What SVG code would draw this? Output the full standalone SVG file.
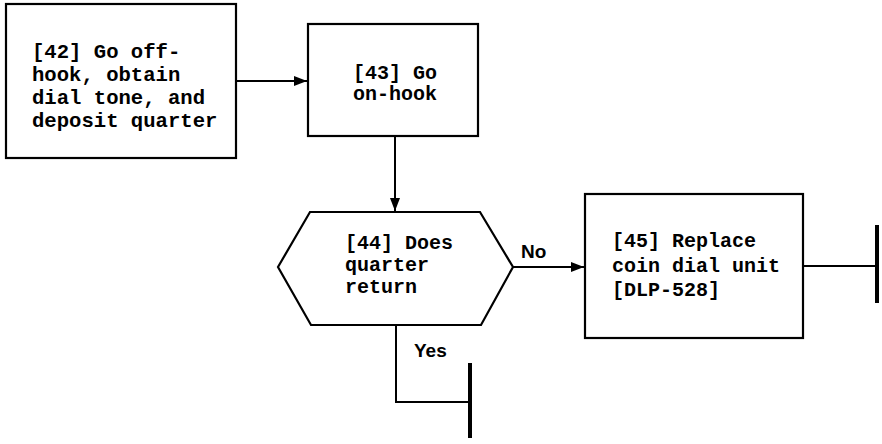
<svg xmlns="http://www.w3.org/2000/svg" width="882" height="444" viewBox="0 0 882 444">
<defs>
<style>
.box{fill:#fff;stroke:#000;stroke-width:2.2}
.ln{fill:none;stroke:#000;stroke-width:2}
.bar{fill:none;stroke:#000;stroke-width:4}
.t{font-family:"Liberation Mono",monospace;font-weight:bold;font-size:20px;fill:#000}
.big{font-size:20.6px}
.lbl{font-family:"Liberation Sans",Arial,sans-serif;font-weight:bold;font-size:19px;fill:#000}
</style>
<marker id="ah" markerWidth="13" markerHeight="10" refX="13" refY="5" orient="auto" markerUnits="userSpaceOnUse">
<path d="M0,0 L13,5 L0,10 Z" fill="#000"/>
</marker>
</defs>
<rect width="882" height="444" fill="#fff"/>
<g id="connectors">
<line class="ln" x1="236" y1="81" x2="307" y2="81" marker-end="url(#ah)"/>
<line class="ln" x1="395" y1="136" x2="395" y2="211" marker-end="url(#ah)"/>
<line class="ln" x1="513" y1="267" x2="584" y2="267" marker-end="url(#ah)"/>
<polyline class="ln" points="396,325 396,402 470,402"/>
<line class="bar" x1="470" y1="363" x2="470" y2="438"/>
<line class="ln" x1="803" y1="266" x2="877" y2="266"/>
<line class="bar" x1="877" y1="225" x2="877" y2="303"/>
<text class="lbl" x="521" y="258">No</text>
<text class="lbl" x="414" y="357">Yes</text>
</g>
<g id="n42">
<rect class="box" x="6" y="4" width="230" height="154"/>
<text class="t big" x="32" y="58">[42] Go off-</text>
<text class="t big" x="32" y="81">hook, obtain</text>
<text class="t big" x="32" y="104">dial tone, and</text>
<text class="t big" x="32" y="127">deposit quarter</text>
</g>
<g id="n43">
<rect class="box" x="308" y="24" width="170" height="112"/>
<text class="t" x="353" y="79">[43] Go</text>
<text class="t" x="353" y="100">on-hook</text>
</g>
<g id="n44">
<polygon class="box" points="278,267 310,212 480,212 513,267 481,325 311,325"/>
<text class="t" x="345" y="249">[44] Does</text>
<text class="t" x="345" y="271">quarter</text>
<text class="t" x="345" y="293">return</text>
</g>
<g id="n45">
<rect class="box" x="585" y="194" width="218" height="144"/>
<text class="t" x="612" y="247">[45] Replace</text>
<text class="t" x="612" y="272">coin dial unit</text>
<text class="t" x="612" y="296">[DLP-528]</text>
</g>
</svg>
